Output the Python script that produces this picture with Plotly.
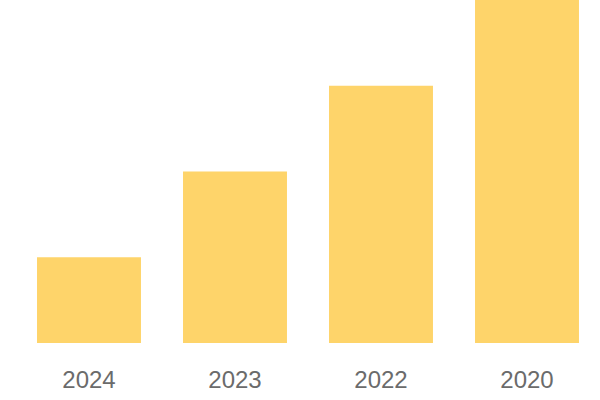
import plotly.graph_objects as go

years = ["2024", "2023", "2022", "2020"]
values = [1, 2, 3, 4]

fig = go.Figure(
    go.Bar(
        x=years,
        y=values,
        marker=dict(color="#FED46A", line=dict(width=0)),
        hoverinfo="skip",
    )
)

fig.update_layout(
    width=600,
    height=400,
    margin=dict(l=16, r=0, t=0, b=57),
    plot_bgcolor="white",
    paper_bgcolor="white",
    bargap=0.288,
    showlegend=False,
    font=dict(family="Liberation Sans, Arial, sans-serif", size=24, color="#6b6b6b"),
)

fig.update_xaxes(showgrid=False, showline=False, ticks="", ticklabelstandoff=20)
fig.update_yaxes(visible=False, range=[0, 4])

# drop the default page margin so the chart sits flush in the window
fig.write_html(
    "out.html",
    config={"displayModeBar": False},
    post_script="document.body.style.margin='0';",
)
